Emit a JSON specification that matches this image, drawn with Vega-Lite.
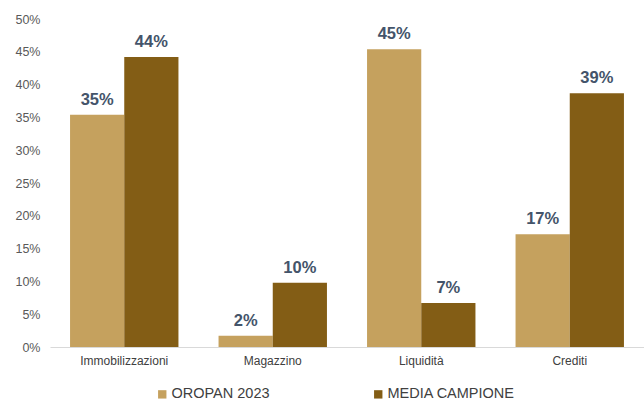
{
  "$schema": "https://vega.github.io/schema/vega-lite/v6.json",
  "width": 594,
  "height": 328,
  "autosize": {"type": "none"},
  "padding": {"left": 50, "top": 19, "right": 0, "bottom": 56},
  "background": "white",
  "config": {"view": {"stroke": null}, "font": "Liberation Sans"},
  "data": {
    "values": [
      {"cat": "Immobilizzazioni", "serie": "OROPAN 2023", "v": 0.354},
      {"cat": "Immobilizzazioni", "serie": "MEDIA CAMPIONE", "v": 0.442},
      {"cat": "Magazzino", "serie": "OROPAN 2023", "v": 0.017},
      {"cat": "Magazzino", "serie": "MEDIA CAMPIONE", "v": 0.098},
      {"cat": "Liquidità", "serie": "OROPAN 2023", "v": 0.454},
      {"cat": "Liquidità", "serie": "MEDIA CAMPIONE", "v": 0.067},
      {"cat": "Crediti", "serie": "OROPAN 2023", "v": 0.172},
      {"cat": "Crediti", "serie": "MEDIA CAMPIONE", "v": 0.387}
    ]
  },
  "encoding": {
    "x": {
      "field": "cat", "type": "nominal", "sort": null,
      "scale": {"paddingInner": 0.27, "paddingOuter": 0.135},
      "axis": {"title": null, "labelAngle": 0, "ticks": false, "domainColor": "#d9d9d9", "labelColor": "#404040", "labelFontSize": 12, "labelPadding": 8}
    },
    "xOffset": {"field": "serie", "type": "nominal", "sort": ["OROPAN 2023", "MEDIA CAMPIONE"]},
    "y": {
      "field": "v", "type": "quantitative",
      "scale": {"domain": [0, 0.5]},
      "axis": {"title": null, "format": ".0%", "values": [0, 0.05, 0.1, 0.15, 0.2, 0.25, 0.3, 0.35, 0.4, 0.45, 0.5], "grid": false, "domain": false, "ticks": false, "labelColor": "#595959", "labelFontSize": 12.5, "labelPadding": 10}
    }
  },
  "layer": [
    {
      "mark": {"type": "bar"},
      "encoding": {
        "color": {
          "field": "serie", "type": "nominal",
          "sort": ["OROPAN 2023", "MEDIA CAMPIONE"],
          "scale": {"domain": ["OROPAN 2023", "MEDIA CAMPIONE"], "range": ["#C5A15E", "#835D15"]},
          "legend": {"title": null, "orient": "none", "legendX": 105, "legendY": 368, "direction": "horizontal", "symbolType": "square", "symbolSize": 70, "labelFontSize": 14.5, "labelColor": "#404040", "columnPadding": 101, "labelOffset": 2, "symbolStrokeWidth": 0}
        }
      }
    },
    {
      "mark": {"type": "text", "dy": -15, "fontSize": 16.5, "fontWeight": "bold", "color": "#44546A"},
      "encoding": {
        "text": {"field": "v", "type": "quantitative", "format": ".0%"}
      }
    }
  ]
}
